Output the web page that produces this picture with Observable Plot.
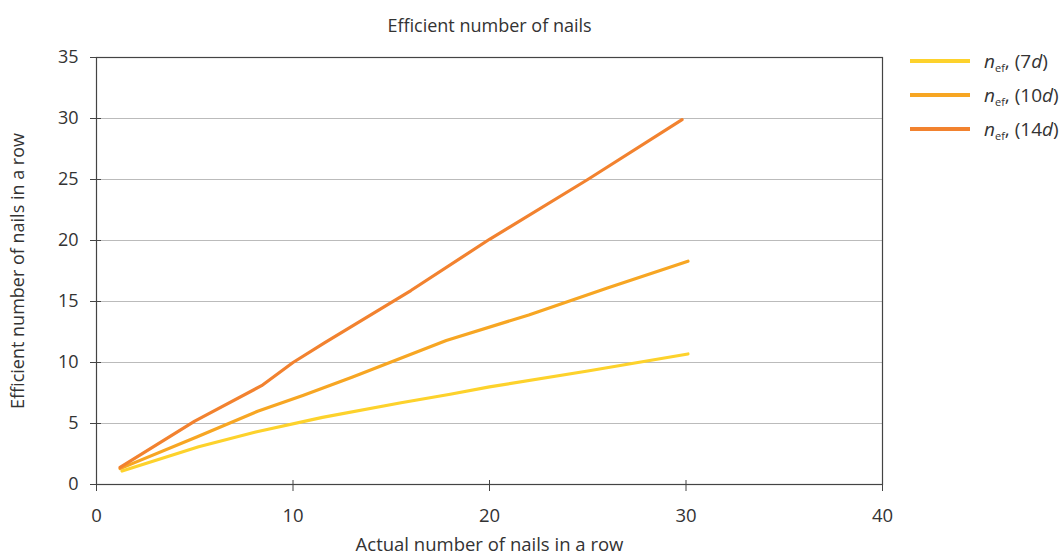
<!DOCTYPE html>
<html>
<head>
<meta charset="utf-8">
<script src="https://cdn.jsdelivr.net/npm/d3@7"></script>
<script src="https://cdn.jsdelivr.net/npm/@observablehq/plot@0.6"></script>
<style>
  html, body { margin: 0; padding: 0; background: #fff; }
  #wrap { position: relative; width: 1064px; height: 558px; font-family: "Open Sans", "Noto Sans", sans-serif; color: #333; }
  #legend { position: absolute; left: 910px; top: 44px; font-size: 19px; }
  .item { display: flex; align-items: center; height: 34px; white-space: nowrap; }
  .sw { width: 60px; height: 3.5px; margin-right: 14px; }
  sub { font-size: 11px; vertical-align: -4px; }
</style>
</head>
<body>
<div id="wrap"><div id="chart"></div><div id="legend"></div></div>
<script>
const chartTitle = "Efficient number of nails";
const xLabel = "Actual number of nails in a row";
const yLabel = "Efficient number of nails in a row";
const xTicks = [0, 10, 20, 30, 40];
const yTicks = [0, 5, 10, 15, 20, 25, 30, 35];
const seriesNames = ["7d", "10d", "14d"];
const seriesColors = ["#FDD22C", "#F7A623", "#F2822F"];

const x7 = [1.3, 5.2, 8.1, 11.5, 15.5, 18, 20, 25, 30.1];
const y7 = [1.1, 3.1, 4.3, 5.5, 6.7, 7.4, 8.0, 9.3, 10.7];
const x10 = [1.2, 5.1, 8.2, 10.5, 13, 17.8, 22, 26, 30.1];
const y10 = [1.3, 3.9, 6.0, 7.3, 8.8, 11.8, 13.9, 16.1, 18.3];
const x14 = [1.2, 5.0, 8.4, 10.0, 11.6, 16, 20, 25, 29.8];
const y14 = [1.4, 5.2, 8.1, 10.0, 11.6, 15.9, 20.1, 25.0, 29.9];

const data = [];
[[x7, y7], [x10, y10], [x14, y14]].forEach(([xs, ys], i) => {
  xs.forEach((xv, j) => data.push({series: seriesNames[i], x: xv, y: ys[j]}));
});

const font = '"Open Sans", "Noto Sans", sans-serif';
const plot = Plot.plot({
  width: 1064,
  height: 558,
  marginLeft: 96,
  marginRight: 182,
  marginTop: 57,
  marginBottom: 74,
  style: {fontFamily: font, fontSize: "18px", color: "#333", background: "#fff"},
  x: {domain: [0, 40], ticks: xTicks},
  y: {domain: [0, 35], ticks: yTicks},
  color: {domain: seriesNames, range: seriesColors},
  marks: [
    Plot.ruleY(yTicks.filter(d => d > 0 && d < 35), {stroke: "#bbb", strokeWidth: 1}),
    Plot.frame({stroke: "#444", strokeWidth: 1.2}),
    Plot.axisY({ticks: yTicks, tickSize: 6, tickPadding: 12, stroke: "#444", fill: "#333", label: yLabel, labelAnchor: "center", labelArrow: "none", labelOffset: 85, fontSize: "18px"}),
    Plot.axisY({ticks: yTicks, tickSize: -5, tickFormat: () => "", stroke: "#444", label: null}),
    Plot.axisX({ticks: xTicks, tickSize: 7, tickPadding: 17, stroke: "#444", fill: "#333", label: xLabel, labelAnchor: "center", labelOffset: 66, labelArrow: "none", fontSize: "18.5px"}),
    Plot.axisX({ticks: xTicks, tickSize: -4, tickFormat: () => "", stroke: "#444", label: null}),
    Plot.line(data, {x: "x", y: "y", z: "series", stroke: "series", strokeWidth: 3.2, strokeLinejoin: "round"}),
    Plot.text([chartTitle], {frameAnchor: "top", dy: -38, fontSize: "18px", fill: "#333"})
  ]
});
document.getElementById("chart").appendChild(plot);

const legend = document.getElementById("legend");
seriesNames.forEach((s, i) => {
  const num = s.replace("d", "");
  const div = document.createElement("div");
  div.className = "item";
  div.innerHTML = `<span class="sw" style="background:${seriesColors[i]}"></span><span><i>n</i><sub>ef</sub>, (${num}<i>d</i>)</span>`;
  legend.appendChild(div);
});
</script>
</body>
</html>
